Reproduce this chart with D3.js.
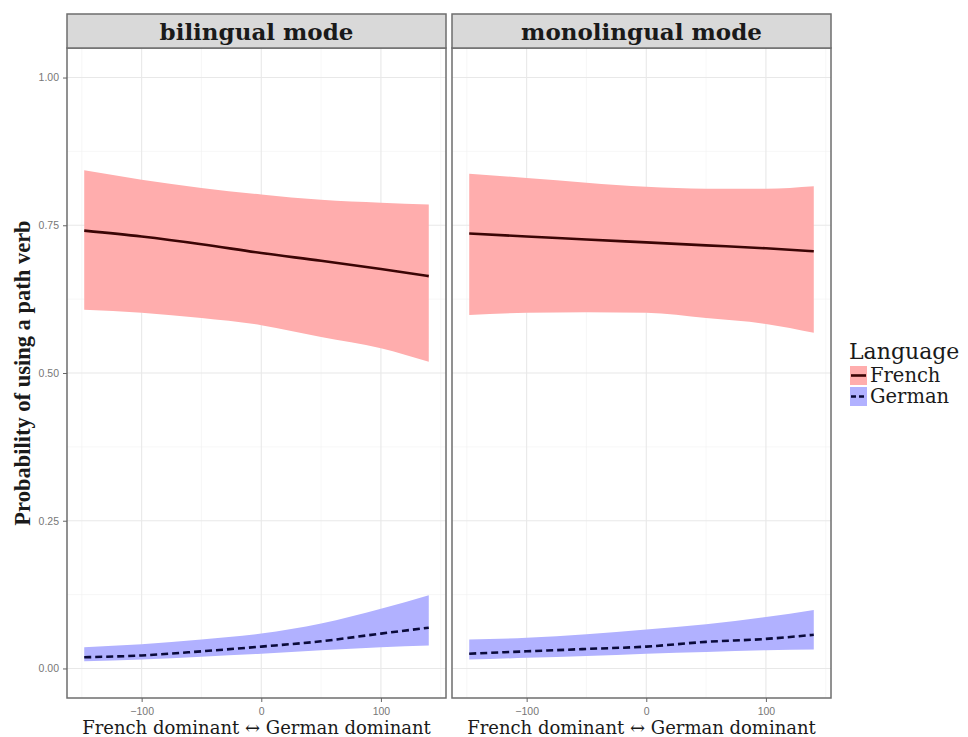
<!DOCTYPE html>
<html><head><meta charset="utf-8">
<script src="https://cdn.jsdelivr.net/npm/d3@7"></script>
<style>body{margin:0;background:#fff}svg{display:block}</style>
</head><body>
<svg id="c" width="968" height="737"></svg>
<script>
const panels = ["bilingual mode", "monolingual mode"];
const languages = ["French", "German"];
const xVals = [-148, -100, -50, 0, 50, 100, 140];
// bilingual mode
const biFrenchFit   = [0.741, 0.731, 0.718, 0.703, 0.690, 0.676, 0.664];
const biFrenchUpper = [0.843, 0.827, 0.813, 0.802, 0.793, 0.788, 0.785];
const biFrenchLower = [0.607, 0.602, 0.593, 0.581, 0.561, 0.542, 0.519];
const biGermanFit   = [0.019, 0.022, 0.029, 0.037, 0.046, 0.059, 0.069];
const biGermanUpper = [0.036, 0.041, 0.049, 0.059, 0.076, 0.101, 0.124];
const biGermanLower = [0.012, 0.015, 0.020, 0.025, 0.031, 0.036, 0.039];
// monolingual mode
const moFrenchFit   = [0.736, 0.731, 0.726, 0.721, 0.716, 0.711, 0.706];
const moFrenchUpper = [0.837, 0.830, 0.822, 0.815, 0.812, 0.812, 0.816];
const moFrenchLower = [0.598, 0.602, 0.603, 0.602, 0.593, 0.583, 0.568];
const moGermanFit   = [0.025, 0.029, 0.033, 0.037, 0.045, 0.050, 0.057];
const moGermanUpper = [0.049, 0.052, 0.058, 0.066, 0.075, 0.087, 0.099];
const moGermanLower = [0.015, 0.018, 0.021, 0.025, 0.028, 0.031, 0.032];
const xTicks = [-100, 0, 100];
const xMinor = [-150, -50, 50, 150];
const yTicks = [0, 0.25, 0.5, 0.75, 1];
const yTickLabels = ["0.00", "0.25", "0.50", "0.75", "1.00"];
const yMinor = [0.125, 0.375, 0.625, 0.875];

const series = {
  "bilingual mode": {
    French: {fit: biFrenchFit, up: biFrenchUpper, lo: biFrenchLower},
    German: {fit: biGermanFit, up: biGermanUpper, lo: biGermanLower}
  },
  "monolingual mode": {
    French: {fit: moFrenchFit, up: moFrenchUpper, lo: moFrenchLower},
    German: {fit: moGermanFit, up: moGermanUpper, lo: moGermanLower}
  }
};
const fillCol = {French: "#ffadad", German: "#b1b1ff"};
const lineCol = {French: "#3b0505", German: "#0a0a3a"};
const dash = {French: null, German: "7,4"};

const svg = d3.select("#c");
const panelX = [[67, 446], [452, 831]];
const stripTop = 14, panelTop = 48, panelBottom = 698;
const serif = "'DejaVu Serif', serif";
const sans = "'Liberation Sans', Arial, sans-serif";

const xExt = d3.extent(xVals), xPad = (xExt[1]-xExt[0])*0.05;
const y = d3.scaleLinear().domain([-0.05, 1.05]).range([panelBottom, panelTop]);

panels.forEach((p, i) => {
  const [x0, x1] = panelX[i];
  const x = d3.scaleLinear().domain([xExt[0]-xPad, xExt[1]+xPad]).range([x0, x1]);
  const g = svg.append("g");
  g.append("rect").attr("x", x0).attr("y", panelTop).attr("width", x1-x0).attr("height", panelBottom-panelTop).attr("fill", "#fff");
  // grid
  g.selectAll(".vmin").data(xMinor.filter(v => x(v) > x0 && x(v) < x1)).enter().append("line")
    .attr("x1", d => x(d)).attr("x2", d => x(d)).attr("y1", panelTop).attr("y2", panelBottom)
    .attr("stroke", "#f2f2f2").attr("stroke-width", 0.6);
  g.selectAll(".hmin").data(yMinor).enter().append("line")
    .attr("y1", d => y(d)).attr("y2", d => y(d)).attr("x1", x0).attr("x2", x1)
    .attr("stroke", "#f2f2f2").attr("stroke-width", 0.6);
  g.selectAll(".vmaj").data(xTicks).enter().append("line")
    .attr("x1", d => x(d)).attr("x2", d => x(d)).attr("y1", panelTop).attr("y2", panelBottom)
    .attr("stroke", "#e8e8e8").attr("stroke-width", 1.1);
  g.selectAll(".hmaj").data(yTicks).enter().append("line")
    .attr("y1", d => y(d)).attr("y2", d => y(d)).attr("x1", x0).attr("x2", x1)
    .attr("stroke", "#e8e8e8").attr("stroke-width", 1.1);

  languages.forEach(lang => {
    const s = series[p][lang];
    const rows = xVals.map((v, k) => ({x: v, fit: s.fit[k], up: s.up[k], lo: s.lo[k]}));
    const area = d3.area().x(d => x(d.x)).y0(d => y(d.lo)).y1(d => y(d.up)).curve(d3.curveMonotoneX);
    g.append("path").attr("d", area(rows)).attr("fill", fillCol[lang]);
  });
  languages.forEach(lang => {
    const s = series[p][lang];
    const rows = xVals.map((v, k) => ({x: v, fit: s.fit[k]}));
    const line = d3.line().x(d => x(d.x)).y(d => y(d.fit)).curve(d3.curveMonotoneX);
    g.append("path").attr("d", line(rows)).attr("fill", "none").attr("stroke", lineCol[lang])
      .attr("stroke-width", 2.6).attr("stroke-dasharray", dash[lang]);
  });

  // border
  g.append("rect").attr("x", x0).attr("y", panelTop).attr("width", x1-x0).attr("height", panelBottom-panelTop)
    .attr("fill", "none").attr("stroke", "#6e6e6e").attr("stroke-width", 1.5);
  // strip
  g.append("rect").attr("x", x0).attr("y", stripTop).attr("width", x1-x0).attr("height", panelTop-stripTop)
    .attr("fill", "#d9d9d9").attr("stroke", "#6e6e6e").attr("stroke-width", 1.5);
  g.append("text").attr("x", (x0+x1)/2).attr("y", 40).attr("text-anchor", "middle")
    .attr("font-family", serif).attr("font-weight", "bold").attr("font-size", 23).attr("fill", "#1a1a1a").text(p);

  // x axis
  const xa = g.append("g").attr("transform", `translate(0,${panelBottom})`)
    .call(d3.axisBottom(x).tickValues(xTicks).tickSize(4).tickPadding(6).tickFormat(d3.format("d")));
  xa.select(".domain").remove();
  xa.selectAll("line").attr("stroke", "#666");
  xa.selectAll("text").attr("font-family", sans).attr("font-size", 10.5).attr("fill", "#777");
  g.append("text").attr("x", (x0+x1)/2).attr("y", 734).attr("text-anchor", "middle")
    .attr("font-family", serif).attr("font-size", 18).attr("fill", "#1a1a1a").text("French dominant \u2194 German dominant");

  if (i === 0) {
    const ya = g.append("g").attr("transform", `translate(${x0},0)`)
      .call(d3.axisLeft(y).tickValues(yTicks).tickSize(4).tickPadding(4).tickFormat((d, k) => yTickLabels[k]));
    ya.select(".domain").remove();
    ya.selectAll("line").attr("stroke", "#666");
    ya.selectAll("text").attr("font-family", sans).attr("font-size", 10.5).attr("fill", "#777");
  }
});

// y title
svg.append("text").attr("transform", `translate(30,${(y(0)+y(1))/2}) rotate(-90)`).attr("text-anchor", "middle")
  .attr("font-family", "'Liberation Serif', serif").attr("font-weight", "bold").attr("font-size", 22.5).attr("fill", "#1a1a1a")
  .text("Probability of using a path verb");

// legend
const lg = svg.append("g");
lg.append("text").attr("x", 849).attr("y", 359).attr("font-family", serif).attr("font-size", 22).attr("fill", "#1a1a1a").text("Language");
languages.forEach((lang, k) => {
  const ty = 366 + k*21;
  lg.append("rect").attr("x", 850).attr("y", ty).attr("width", 17).attr("height", 19).attr("fill", fillCol[lang]);
  lg.append("line").attr("x1", 851).attr("x2", 866).attr("y1", ty+9.5).attr("y2", ty+9.5)
    .attr("stroke", lineCol[lang]).attr("stroke-width", 2.6).attr("stroke-dasharray", lang === "German" ? "5,3" : null);
  lg.append("text").attr("x", 870).attr("y", ty+16).attr("font-family", serif).attr("font-size", 19.5).attr("fill", "#1a1a1a").text(lang);
});
</script>
</body></html>
